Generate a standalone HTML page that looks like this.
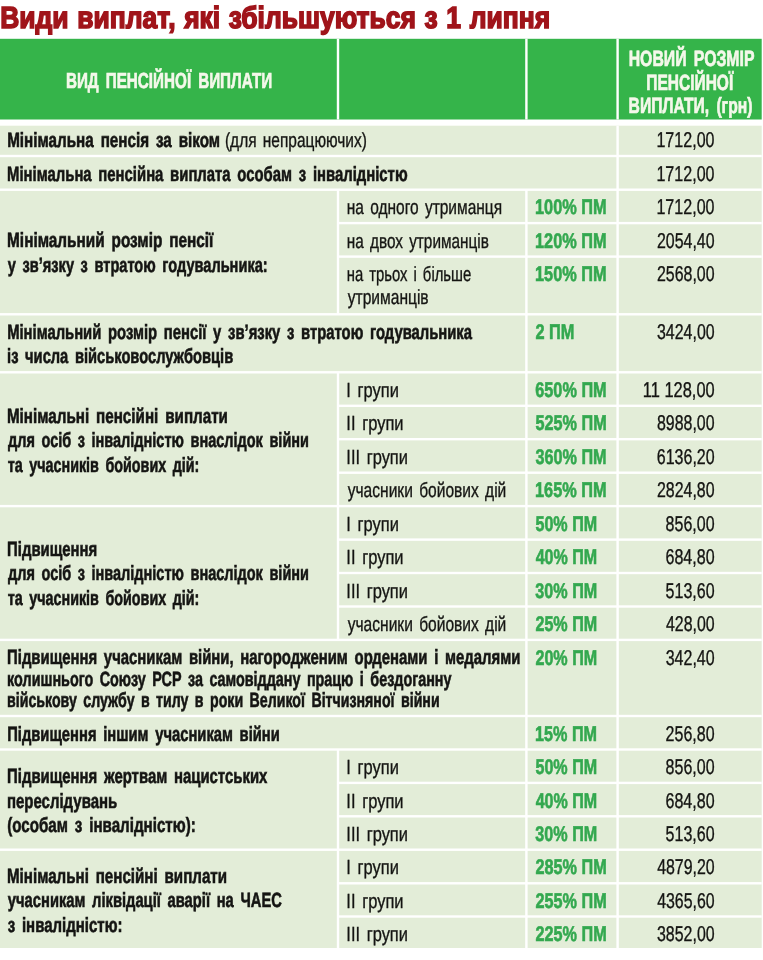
<!DOCTYPE html><html><head><meta charset="utf-8"><title>Види виплат</title><style>
html,body{margin:0;padding:0;background:#fff}body{width:763px;height:960px;position:relative;overflow:hidden;font-family:"Liberation Sans", sans-serif}
.bg{position:absolute;left:0;top:0}
.tx{position:absolute;left:0;top:0;width:763px;height:960px;will-change:transform}.t{position:absolute;white-space:pre;line-height:1;transform-origin:0 0;text-rendering:geometricPrecision}
</style></head><body>
<svg class="bg" width="763" height="960" viewBox="0 0 763 960">
<rect x="0.00" y="38.80" width="761.70" height="80.70" fill="#35b44a"/>
<rect x="0.00" y="125.70" width="761.70" height="822.30" fill="#e3edd8"/>
<g fill="#fff">
<rect x="0.00" y="154.80" width="761.70" height="2.40"/>
<rect x="0.00" y="188.50" width="761.70" height="2.40"/>
<rect x="338.00" y="221.90" width="423.70" height="2.40"/>
<rect x="338.00" y="255.40" width="423.70" height="2.40"/>
<rect x="0.00" y="313.10" width="761.70" height="2.40"/>
<rect x="0.00" y="371.10" width="761.70" height="2.40"/>
<rect x="338.00" y="404.60" width="423.70" height="2.40"/>
<rect x="338.00" y="438.00" width="423.70" height="2.40"/>
<rect x="338.00" y="471.50" width="423.70" height="2.40"/>
<rect x="0.00" y="504.90" width="761.70" height="2.40"/>
<rect x="338.00" y="538.40" width="423.70" height="2.40"/>
<rect x="338.00" y="571.80" width="423.70" height="2.40"/>
<rect x="338.00" y="605.30" width="423.70" height="2.40"/>
<rect x="0.00" y="638.70" width="761.70" height="2.40"/>
<rect x="0.00" y="714.80" width="761.70" height="2.40"/>
<rect x="0.00" y="748.30" width="761.70" height="2.40"/>
<rect x="338.00" y="781.70" width="423.70" height="2.40"/>
<rect x="338.00" y="815.10" width="423.70" height="2.40"/>
<rect x="0.00" y="848.50" width="761.70" height="2.40"/>
<rect x="338.00" y="882.10" width="423.70" height="2.40"/>
<rect x="338.00" y="915.30" width="423.70" height="2.40"/>
<rect x="336.80" y="38.80" width="2.40" height="80.70"/>
<rect x="525.20" y="38.80" width="2.40" height="80.70"/>
<rect x="616.40" y="38.80" width="2.40" height="80.70"/>
<rect x="616.40" y="125.70" width="2.40" height="822.30"/>
<rect x="525.20" y="189.50" width="2.40" height="758.50"/>
<rect x="336.80" y="189.50" width="2.40" height="124.70"/>
<rect x="336.80" y="372.00" width="2.40" height="267.60"/>
<rect x="336.80" y="749.30" width="2.40" height="198.70"/>
</g></svg>
<div class="tx">
<div class="t" style="left:0px;top:3px;font-size:30.6px;font-weight:700;color:#a0141a;transform:translate(0.20px,0) scaleX(0.8641);-webkit-text-stroke:1.6px #a0141a;word-spacing:1.5px">Види виплат, які збільшуються з 1 липня</div>
<div class="t" style="left:65px;top:70px;font-size:21.8px;font-weight:700;color:#f4f8ea;transform:translate(0.89px,0) scaleX(0.6991);-webkit-text-stroke:0.7px #f4f8ea;word-spacing:4px">ВИД ПЕНСІЙНОЇ ВИПЛАТИ</div>
<div class="t" style="left:628px;top:48px;font-size:22px;font-weight:700;color:#f4f8ea;transform:translate(0.69px,0) scaleX(0.7184);-webkit-text-stroke:0.7px #f4f8ea;word-spacing:4px">НОВИЙ РОЗМІР</div>
<div class="t" style="left:646px;top:72px;font-size:22px;font-weight:700;color:#f4f8ea;transform:translate(0.32px,0) scaleX(0.7046);-webkit-text-stroke:0.7px #f4f8ea;word-spacing:4px">ПЕНСІЙНОЇ</div>
<div class="t" style="left:628px;top:95px;font-size:22px;font-weight:700;color:#f4f8ea;transform:translate(0.59px,0) scaleX(0.7126);-webkit-text-stroke:0.7px #f4f8ea;word-spacing:4px">ВИПЛАТИ, (грн)</div>
<div class="t" style="left:7px;top:131px;font-size:20.6px;font-weight:700;color:#141412;transform:translate(0.15px,0) scaleX(0.7396);-webkit-text-stroke:0.6px #141412;word-spacing:3.6px">Мінімальна пенсія за віком</div>
<div class="t" style="left:224px;top:131px;font-size:20.5px;font-weight:400;color:#141412;transform:translate(0.96px,0) scaleX(0.7547);-webkit-text-stroke:0.35px #141412;word-spacing:2.6px">(для непрацюючих)</div>
<div class="t" style="left:7px;top:165px;font-size:20.6px;font-weight:700;color:#141412;transform:translate(0.11px,0) scaleX(0.7219);-webkit-text-stroke:0.6px #141412;word-spacing:3.6px">Мінімальна пенсійна виплата особам з інвалідністю</div>
<div class="t" style="left:7px;top:231px;font-size:20.6px;font-weight:700;color:#141412;transform:translate(0.09px,0) scaleX(0.7447);-webkit-text-stroke:0.6px #141412;word-spacing:3.6px">Мінімальний розмір пенсії</div>
<div class="t" style="left:7px;top:256px;font-size:20.6px;font-weight:700;color:#141412;transform:translate(0.84px,0) scaleX(0.7084);-webkit-text-stroke:0.6px #141412;word-spacing:3.6px">у зв’язку з втратою годувальника:</div>
<div class="t" style="left:7px;top:323px;font-size:20.6px;font-weight:700;color:#141412;transform:translate(0.14px,0) scaleX(0.7193);-webkit-text-stroke:0.6px #141412;word-spacing:3.6px">Мінімальний розмір пенсії у зв’язку з втратою годувальника</div>
<div class="t" style="left:7px;top:347px;font-size:20.6px;font-weight:700;color:#141412;transform:translate(0.07px,0) scaleX(0.7128);-webkit-text-stroke:0.6px #141412;word-spacing:3.6px">із числа військовослужбовців</div>
<div class="t" style="left:6px;top:407px;font-size:20.6px;font-weight:700;color:#141412;transform:translate(0.95px,0) scaleX(0.7383);-webkit-text-stroke:0.6px #141412;word-spacing:3.6px">Мінімальні пенсійні виплати</div>
<div class="t" style="left:8px;top:431px;font-size:20.6px;font-weight:700;color:#141412;transform:translate(0.01px,0) scaleX(0.7044);-webkit-text-stroke:0.6px #141412;word-spacing:3.6px">для осіб з інвалідністю внаслідок війни</div>
<div class="t" style="left:7px;top:456px;font-size:20.6px;font-weight:700;color:#141412;transform:translate(0.75px,0) scaleX(0.6961);-webkit-text-stroke:0.6px #141412;word-spacing:3.6px">та учасників бойових дій:</div>
<div class="t" style="left:7px;top:540px;font-size:20.6px;font-weight:700;color:#141412;transform:translate(0.07px,0) scaleX(0.7236);-webkit-text-stroke:0.6px #141412;word-spacing:3.6px">Підвищення</div>
<div class="t" style="left:8px;top:564px;font-size:20.6px;font-weight:700;color:#141412;transform:translate(0.01px,0) scaleX(0.7044);-webkit-text-stroke:0.6px #141412;word-spacing:3.6px">для осіб з інвалідністю внаслідок війни</div>
<div class="t" style="left:7px;top:589px;font-size:20.6px;font-weight:700;color:#141412;transform:translate(0.75px,0) scaleX(0.6961);-webkit-text-stroke:0.6px #141412;word-spacing:3.6px">та учасників бойових дій:</div>
<div class="t" style="left:7px;top:648px;font-size:20.6px;font-weight:700;color:#141412;transform:translate(0.10px,0) scaleX(0.7223);-webkit-text-stroke:0.6px #141412;word-spacing:3.6px">Підвищення учасникам війни, нагородженим орденами і медалями</div>
<div class="t" style="left:7px;top:670px;font-size:20.6px;font-weight:700;color:#141412;transform:translate(0.11px,0) scaleX(0.6968);-webkit-text-stroke:0.6px #141412;word-spacing:3.6px">колишнього Союзу РСР за самовіддану працю і бездоганну</div>
<div class="t" style="left:7px;top:691px;font-size:20.6px;font-weight:700;color:#141412;transform:translate(0.02px,0) scaleX(0.6886);-webkit-text-stroke:0.6px #141412;word-spacing:3.6px">військову службу в тилу в роки Великої Вітчизняної війни</div>
<div class="t" style="left:7px;top:725px;font-size:20.6px;font-weight:700;color:#141412;transform:translate(0.18px,0) scaleX(0.7169);-webkit-text-stroke:0.6px #141412;word-spacing:3.6px">Підвищення іншим учасникам війни</div>
<div class="t" style="left:7px;top:767px;font-size:20.6px;font-weight:700;color:#141412;transform:translate(0.06px,0) scaleX(0.7239);-webkit-text-stroke:0.6px #141412;word-spacing:3.6px">Підвищення жертвам нацистських</div>
<div class="t" style="left:6px;top:792px;font-size:20.6px;font-weight:700;color:#141412;transform:translate(0.94px,0) scaleX(0.7274);-webkit-text-stroke:0.6px #141412;word-spacing:3.6px">переслідувань</div>
<div class="t" style="left:7px;top:816px;font-size:20.6px;font-weight:700;color:#141412;transform:translate(0.16px,0) scaleX(0.7357);-webkit-text-stroke:0.6px #141412;word-spacing:3.6px">(особам з інвалідністю):</div>
<div class="t" style="left:6px;top:867px;font-size:20.6px;font-weight:700;color:#141412;transform:translate(0.96px,0) scaleX(0.7353);-webkit-text-stroke:0.6px #141412;word-spacing:3.6px">Мінімальні пенсійні виплати</div>
<div class="t" style="left:7px;top:891px;font-size:20.6px;font-weight:700;color:#141412;transform:translate(0.86px,0) scaleX(0.7153);-webkit-text-stroke:0.6px #141412;word-spacing:3.6px">учасникам ліквідації аварії на ЧАЕС</div>
<div class="t" style="left:7px;top:916px;font-size:20.6px;font-weight:700;color:#141412;transform:translate(0.68px,0) scaleX(0.7286);-webkit-text-stroke:0.6px #141412;word-spacing:3.6px">з інвалідністю:</div>
<div class="t" style="left:346px;top:198px;font-size:20.5px;font-weight:400;color:#141412;transform:translate(0.75px,0) scaleX(0.7560);-webkit-text-stroke:0.35px #141412;word-spacing:2.6px">на одного утриманця</div>
<div class="t" style="left:346px;top:232px;font-size:20.5px;font-weight:400;color:#141412;transform:translate(0.83px,0) scaleX(0.7478);-webkit-text-stroke:0.35px #141412;word-spacing:2.6px">на двох утриманців</div>
<div class="t" style="left:346px;top:265px;font-size:20.5px;font-weight:400;color:#141412;transform:translate(0.72px,0) scaleX(0.7249);-webkit-text-stroke:0.35px #141412;word-spacing:2.6px">на трьох і більше</div>
<div class="t" style="left:347px;top:288px;font-size:20.5px;font-weight:400;color:#141412;transform:translate(0.73px,0) scaleX(0.7598);-webkit-text-stroke:0.35px #141412;word-spacing:2.6px">утриманців</div>
<div class="t" style="left:346px;top:381px;font-size:20.5px;font-weight:400;color:#141412;transform:translate(0.35px,0) scaleX(0.8020);-webkit-text-stroke:0.35px #141412;word-spacing:2.6px">I групи</div>
<div class="t" style="left:346px;top:414px;font-size:20.5px;font-weight:400;color:#141412;transform:translate(0.33px,0) scaleX(0.8040);-webkit-text-stroke:0.35px #141412;word-spacing:2.6px">II групи</div>
<div class="t" style="left:346px;top:448px;font-size:20.5px;font-weight:400;color:#141412;transform:translate(0.35px,0) scaleX(0.8015);-webkit-text-stroke:0.35px #141412;word-spacing:2.6px">III групи</div>
<div class="t" style="left:347px;top:481px;font-size:20.5px;font-weight:400;color:#141412;transform:translate(0.73px,0) scaleX(0.7590);-webkit-text-stroke:0.35px #141412;word-spacing:2.6px">учасники бойових дій</div>
<div class="t" style="left:346px;top:515px;font-size:20.5px;font-weight:400;color:#141412;transform:translate(0.35px,0) scaleX(0.8020);-webkit-text-stroke:0.35px #141412;word-spacing:2.6px">I групи</div>
<div class="t" style="left:346px;top:548px;font-size:20.5px;font-weight:400;color:#141412;transform:translate(0.33px,0) scaleX(0.8040);-webkit-text-stroke:0.35px #141412;word-spacing:2.6px">II групи</div>
<div class="t" style="left:346px;top:582px;font-size:20.5px;font-weight:400;color:#141412;transform:translate(0.35px,0) scaleX(0.8015);-webkit-text-stroke:0.35px #141412;word-spacing:2.6px">III групи</div>
<div class="t" style="left:347px;top:615px;font-size:20.5px;font-weight:400;color:#141412;transform:translate(0.73px,0) scaleX(0.7590);-webkit-text-stroke:0.35px #141412;word-spacing:2.6px">учасники бойових дій</div>
<div class="t" style="left:346px;top:758px;font-size:20.5px;font-weight:400;color:#141412;transform:translate(0.35px,0) scaleX(0.8020);-webkit-text-stroke:0.35px #141412;word-spacing:2.6px">I групи</div>
<div class="t" style="left:346px;top:792px;font-size:20.5px;font-weight:400;color:#141412;transform:translate(0.33px,0) scaleX(0.8040);-webkit-text-stroke:0.35px #141412;word-spacing:2.6px">II групи</div>
<div class="t" style="left:346px;top:825px;font-size:20.5px;font-weight:400;color:#141412;transform:translate(0.35px,0) scaleX(0.8015);-webkit-text-stroke:0.35px #141412;word-spacing:2.6px">III групи</div>
<div class="t" style="left:346px;top:858px;font-size:20.5px;font-weight:400;color:#141412;transform:translate(0.35px,0) scaleX(0.8020);-webkit-text-stroke:0.35px #141412;word-spacing:2.6px">I групи</div>
<div class="t" style="left:346px;top:892px;font-size:20.5px;font-weight:400;color:#141412;transform:translate(0.33px,0) scaleX(0.8040);-webkit-text-stroke:0.35px #141412;word-spacing:2.6px">II групи</div>
<div class="t" style="left:346px;top:925px;font-size:20.5px;font-weight:400;color:#141412;transform:translate(0.35px,0) scaleX(0.8015);-webkit-text-stroke:0.35px #141412;word-spacing:2.6px">III групи</div>
<div class="t" style="left:535px;top:197px;font-size:21.2px;font-weight:700;color:#33a84f;transform:translate(0.04px,0) scaleX(0.7706);-webkit-text-stroke:0.6px #33a84f">100% ПМ</div>
<div class="t" style="left:535px;top:231px;font-size:21.2px;font-weight:700;color:#33a84f;transform:translate(0.04px,0) scaleX(0.7706);-webkit-text-stroke:0.6px #33a84f">120% ПМ</div>
<div class="t" style="left:535px;top:264px;font-size:21.2px;font-weight:700;color:#33a84f;transform:translate(0.04px,0) scaleX(0.7706);-webkit-text-stroke:0.6px #33a84f">150% ПМ</div>
<div class="t" style="left:535px;top:322px;font-size:21.2px;font-weight:700;color:#33a84f;transform:translate(0.38px,0) scaleX(0.7716);-webkit-text-stroke:0.6px #33a84f">2 ПМ</div>
<div class="t" style="left:535px;top:380px;font-size:21.2px;font-weight:700;color:#33a84f;transform:translate(0.26px,0) scaleX(0.7681);-webkit-text-stroke:0.6px #33a84f">650% ПМ</div>
<div class="t" style="left:535px;top:413px;font-size:21.2px;font-weight:700;color:#33a84f;transform:translate(0.45px,0) scaleX(0.7664);-webkit-text-stroke:0.6px #33a84f">525% ПМ</div>
<div class="t" style="left:535px;top:447px;font-size:21.2px;font-weight:700;color:#33a84f;transform:translate(0.44px,0) scaleX(0.7658);-webkit-text-stroke:0.6px #33a84f">360% ПМ</div>
<div class="t" style="left:535px;top:480px;font-size:21.2px;font-weight:700;color:#33a84f;transform:translate(0.04px,0) scaleX(0.7706);-webkit-text-stroke:0.6px #33a84f">165% ПМ</div>
<div class="t" style="left:535px;top:514px;font-size:21.2px;font-weight:700;color:#33a84f;transform:translate(0.45px,0) scaleX(0.7602);-webkit-text-stroke:0.6px #33a84f">50% ПМ</div>
<div class="t" style="left:535px;top:547px;font-size:21.2px;font-weight:700;color:#33a84f;transform:translate(0.64px,0) scaleX(0.7580);-webkit-text-stroke:0.6px #33a84f">40% ПМ</div>
<div class="t" style="left:535px;top:581px;font-size:21.2px;font-weight:700;color:#33a84f;transform:translate(0.34px,0) scaleX(0.7627);-webkit-text-stroke:0.6px #33a84f">30% ПМ</div>
<div class="t" style="left:535px;top:614px;font-size:21.2px;font-weight:700;color:#33a84f;transform:translate(0.43px,0) scaleX(0.7608);-webkit-text-stroke:0.6px #33a84f">25% ПМ</div>
<div class="t" style="left:535px;top:648px;font-size:21.2px;font-weight:700;color:#33a84f;transform:translate(0.43px,0) scaleX(0.7608);-webkit-text-stroke:0.6px #33a84f">20% ПМ</div>
<div class="t" style="left:535px;top:724px;font-size:21.2px;font-weight:700;color:#33a84f;transform:translate(0.10px,0) scaleX(0.7636);-webkit-text-stroke:0.6px #33a84f">15% ПМ</div>
<div class="t" style="left:535px;top:757px;font-size:21.2px;font-weight:700;color:#33a84f;transform:translate(0.45px,0) scaleX(0.7602);-webkit-text-stroke:0.6px #33a84f">50% ПМ</div>
<div class="t" style="left:535px;top:791px;font-size:21.2px;font-weight:700;color:#33a84f;transform:translate(0.64px,0) scaleX(0.7580);-webkit-text-stroke:0.6px #33a84f">40% ПМ</div>
<div class="t" style="left:535px;top:824px;font-size:21.2px;font-weight:700;color:#33a84f;transform:translate(0.34px,0) scaleX(0.7627);-webkit-text-stroke:0.6px #33a84f">30% ПМ</div>
<div class="t" style="left:535px;top:857px;font-size:21.2px;font-weight:700;color:#33a84f;transform:translate(0.41px,0) scaleX(0.7667);-webkit-text-stroke:0.6px #33a84f">285% ПМ</div>
<div class="t" style="left:535px;top:891px;font-size:21.2px;font-weight:700;color:#33a84f;transform:translate(0.41px,0) scaleX(0.7667);-webkit-text-stroke:0.6px #33a84f">255% ПМ</div>
<div class="t" style="left:535px;top:924px;font-size:21.2px;font-weight:700;color:#33a84f;transform:translate(0.41px,0) scaleX(0.7667);-webkit-text-stroke:0.6px #33a84f">225% ПМ</div>
<div class="t" style="left:656px;top:130px;font-size:21.4px;font-weight:400;color:#141412;transform:translate(0.43px,0) scaleX(0.7510);-webkit-text-stroke:0.35px #141412">1712,00</div>
<div class="t" style="left:656px;top:164px;font-size:21.4px;font-weight:400;color:#141412;transform:translate(0.43px,0) scaleX(0.7510);-webkit-text-stroke:0.35px #141412">1712,00</div>
<div class="t" style="left:656px;top:197px;font-size:21.4px;font-weight:400;color:#141412;transform:translate(0.43px,0) scaleX(0.7510);-webkit-text-stroke:0.35px #141412">1712,00</div>
<div class="t" style="left:656px;top:231px;font-size:21.4px;font-weight:400;color:#141412;transform:translate(0.92px,0) scaleX(0.7452);-webkit-text-stroke:0.35px #141412">2054,40</div>
<div class="t" style="left:656px;top:264px;font-size:21.4px;font-weight:400;color:#141412;transform:translate(0.92px,0) scaleX(0.7452);-webkit-text-stroke:0.35px #141412">2568,00</div>
<div class="t" style="left:656px;top:322px;font-size:21.4px;font-weight:400;color:#141412;transform:translate(0.98px,0) scaleX(0.7453);-webkit-text-stroke:0.35px #141412">3424,00</div>
<div class="t" style="left:642px;top:380px;font-size:21.4px;font-weight:400;color:#141412;transform:translate(0.83px,0) scaleX(0.7677);-webkit-text-stroke:0.35px #141412">11 128,00</div>
<div class="t" style="left:656px;top:413px;font-size:21.4px;font-weight:400;color:#141412;transform:translate(0.96px,0) scaleX(0.7446);-webkit-text-stroke:0.35px #141412">8988,00</div>
<div class="t" style="left:656px;top:447px;font-size:21.4px;font-weight:400;color:#141412;transform:translate(0.77px,0) scaleX(0.7488);-webkit-text-stroke:0.35px #141412">6136,20</div>
<div class="t" style="left:656px;top:480px;font-size:21.4px;font-weight:400;color:#141412;transform:translate(0.92px,0) scaleX(0.7452);-webkit-text-stroke:0.35px #141412">2824,80</div>
<div class="t" style="left:665px;top:514px;font-size:21.4px;font-weight:400;color:#141412;transform:translate(0.61px,0) scaleX(0.7476);-webkit-text-stroke:0.35px #141412">856,00</div>
<div class="t" style="left:665px;top:547px;font-size:21.4px;font-weight:400;color:#141412;transform:translate(0.46px,0) scaleX(0.7504);-webkit-text-stroke:0.35px #141412">684,80</div>
<div class="t" style="left:665px;top:581px;font-size:21.4px;font-weight:400;color:#141412;transform:translate(0.59px,0) scaleX(0.7487);-webkit-text-stroke:0.35px #141412">513,60</div>
<div class="t" style="left:665px;top:614px;font-size:21.4px;font-weight:400;color:#141412;transform:translate(0.99px,0) scaleX(0.7437);-webkit-text-stroke:0.35px #141412">428,00</div>
<div class="t" style="left:665px;top:648px;font-size:21.4px;font-weight:400;color:#141412;transform:translate(0.69px,0) scaleX(0.7480);-webkit-text-stroke:0.35px #141412">342,40</div>
<div class="t" style="left:665px;top:724px;font-size:21.4px;font-weight:400;color:#141412;transform:translate(0.57px,0) scaleX(0.7484);-webkit-text-stroke:0.35px #141412">256,80</div>
<div class="t" style="left:665px;top:757px;font-size:21.4px;font-weight:400;color:#141412;transform:translate(0.61px,0) scaleX(0.7476);-webkit-text-stroke:0.35px #141412">856,00</div>
<div class="t" style="left:665px;top:791px;font-size:21.4px;font-weight:400;color:#141412;transform:translate(0.46px,0) scaleX(0.7504);-webkit-text-stroke:0.35px #141412">684,80</div>
<div class="t" style="left:665px;top:824px;font-size:21.4px;font-weight:400;color:#141412;transform:translate(0.59px,0) scaleX(0.7487);-webkit-text-stroke:0.35px #141412">513,60</div>
<div class="t" style="left:657px;top:857px;font-size:21.4px;font-weight:400;color:#141412;transform:translate(0.15px,0) scaleX(0.7446);-webkit-text-stroke:0.35px #141412">4879,20</div>
<div class="t" style="left:657px;top:891px;font-size:21.4px;font-weight:400;color:#141412;transform:translate(0.15px,0) scaleX(0.7446);-webkit-text-stroke:0.35px #141412">4365,60</div>
<div class="t" style="left:656px;top:924px;font-size:21.4px;font-weight:400;color:#141412;transform:translate(0.98px,0) scaleX(0.7453);-webkit-text-stroke:0.35px #141412">3852,00</div>
</div>
</body></html>
